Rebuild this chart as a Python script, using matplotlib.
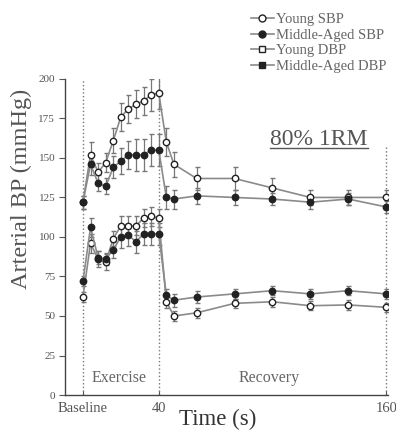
import matplotlib
matplotlib.use("Agg")
import matplotlib.pyplot as plt
from matplotlib.lines import Line2D

plt.rcParams['font.family'] = ['Liberation Serif', 'DejaVu Serif']

# time points (s); baseline is plotted at 0
t_ex = [0, 4, 8, 12, 16, 20, 24, 28, 32, 36, 40]
t_rec = [44, 48, 60, 80, 100, 120, 140, 160]
time = t_ex + t_rec

young_sbp = [122, 152, 141, 147, 161, 176, 181, 184, 186, 190, 191,
             160, 146, 137, 137, 131, 125, 125, 125]
young_sbp_err = [4, 8, 6, 6, 8, 9, 9, 9, 9, 10, 10,
                 9, 8, 7, 7, 6, 5, 5, 5]
mid_sbp = [122, 146, 134, 132, 144, 148, 152, 152, 152, 155, 155,
           125, 124, 126, 125, 124, 122, 124, 119]
mid_sbp_err = [4, 7, 5, 5, 7, 8, 9, 10, 10, 10, 10,
               7, 6, 5, 5, 4, 4, 4, 4]
young_dbp = [62, 96, 86, 84, 99, 107, 107, 107, 112, 113, 112,
             59, 50, 52, 58, 59, 56.5, 57, 55.5]
young_dbp_err = [3, 6, 5, 5, 5, 6, 6, 6, 6, 6, 6,
                 4, 3, 3, 3, 3, 3, 3, 3]
mid_dbp = [72, 106, 87, 86, 92, 100, 101, 97, 102, 102, 102,
           63, 60, 62, 64, 66, 64, 66, 64]
mid_dbp_err = [3, 6, 4, 4, 5, 7, 7, 7, 7, 7, 7,
               4, 4, 4, 3, 3, 3, 3, 3]

labels = ['Young SBP', 'Middle-Aged SBP', 'Young DBP', 'Middle-Aged DBP']

fig = plt.figure(figsize=(3.96, 4.36), dpi=100)
ax = fig.add_axes([0.164, 0.094, 0.816, 0.725])

line_c = '#8a8a8a'
edge_c = '#222222'

series = [
    (young_sbp, young_sbp_err, 'white'),
    (mid_sbp, mid_sbp_err, edge_c),
    (young_dbp, young_dbp_err, 'white'),
    (mid_dbp, mid_dbp_err, edge_c),
]
for vals, errs, face in series:
    ax.errorbar(time, vals, yerr=errs, color=line_c, ecolor='#777777',
                elinewidth=0.9, capsize=1.8, capthick=0.9, lw=1.2,
                marker='o', ms=4.6, mfc=face, mec=edge_c, mew=1.0, zorder=3)

# phase separators
ax.plot([0, 0], [0, 201], ls=':', color='#777777', lw=1.0, zorder=1)
ax.plot([40, 40], [0, 201], ls=':', color='#777777', lw=1.0, zorder=1)
ax.plot([160, 160], [0, 158], ls=':', color='#777777', lw=1.0, zorder=1)

ax.text(19, 11, 'Exercise', ha='center', va='center', fontsize=11.5, color='#666666')
ax.text(98, 11, 'Recovery', ha='center', va='center', fontsize=11.5, color='#666666')

ax.set_xlim(-9.5, 161)
ax.set_ylim(0, 200)
ax.set_yticks([0, 25, 50, 75, 100, 125, 150, 175, 200])
ax.set_xticks([0, 40, 160])
ax.set_xticklabels(['Baseline', '40', '160'])
ax.tick_params(axis='y', direction='out', length=4, width=0.8, pad=3,
               labelsize=8, labelcolor='#555555', color='#555555')
ax.tick_params(axis='x', direction='in', length=3, width=0.8, pad=5,
               labelsize=10.5, labelcolor='#555555', color='#555555')
for side in ('top', 'right'):
    ax.spines[side].set_visible(False)
for side in ('left', 'bottom'):
    ax.spines[side].set_color('#444444')
    ax.spines[side].set_linewidth(1.0)

fig.text(0.053, 0.566, 'Arterial BP (mmHg)', rotation=90, ha='center', va='center',
         fontsize=17.5, color='#555555')
fig.text(0.55, 0.039, 'Time (s)', ha='center', va='center', fontsize=16.5, color='#333333')

# protocol label with underline
fig.text(0.806, 0.668, '80% 1RM', ha='center', va='baseline', fontsize=17, color='#555555')
fig.add_artist(Line2D([0.682, 0.929], [0.661, 0.661], transform=fig.transFigure,
                      color='#555555', lw=1.0))

handles = [
    Line2D([], [], color=line_c, lw=1.2, marker='o', ms=5, mfc='white', mec=edge_c),
    Line2D([], [], color=line_c, lw=1.2, marker='o', ms=5, mfc=edge_c, mec=edge_c),
    Line2D([], [], color=line_c, lw=1.2, marker='s', ms=4.5, mfc='white', mec=edge_c),
    Line2D([], [], color=line_c, lw=1.2, marker='s', ms=4.5, mfc=edge_c, mec=edge_c),
]
leg = fig.legend(handles, labels, loc='upper left', bbox_to_anchor=(0.607, 0.993),
                 frameon=False, fontsize=10.5, handlelength=1.6, handletextpad=0.15,
                 labelspacing=0.15, borderaxespad=0.3, markerfirst=True)
for txt in leg.get_texts():
    txt.set_color('#666666')

fig.savefig('out.png', dpi=100)
